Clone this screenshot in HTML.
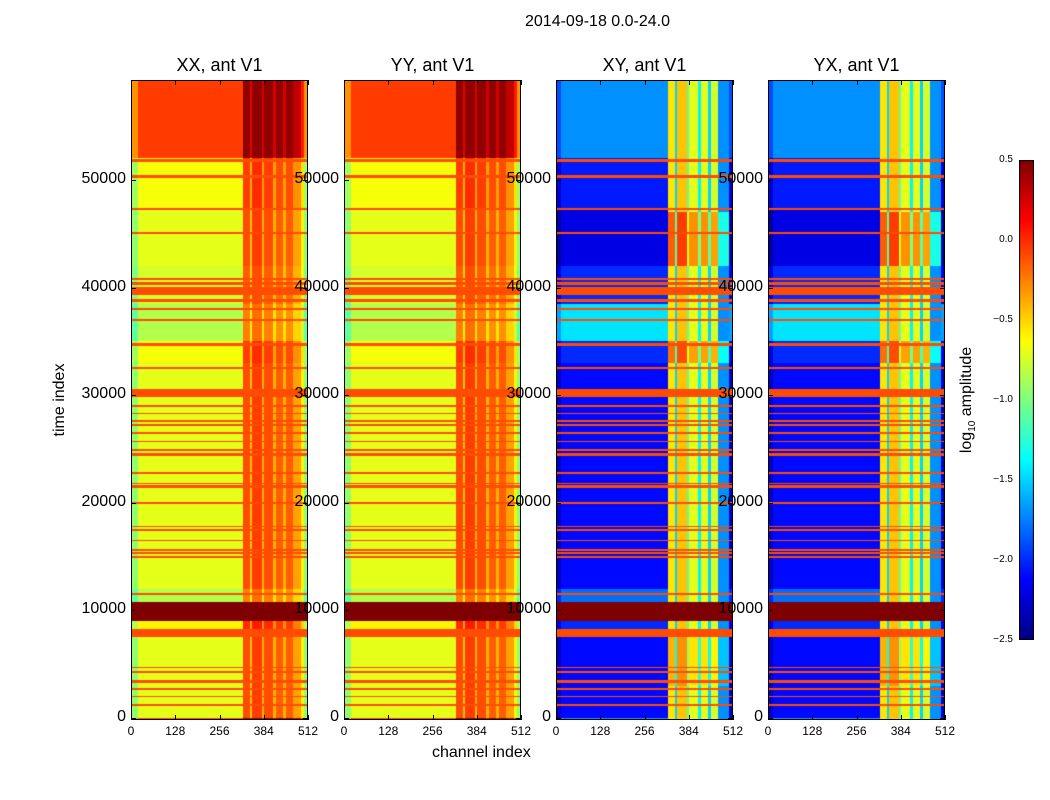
<!DOCTYPE html>
<html><head><meta charset="utf-8">
<style>
body{margin:0;background:#fff;}
#wrap{position:relative;width:1050px;height:800px;overflow:hidden;font-family:"Liberation Sans",sans-serif;color:#000;}
canvas{position:absolute;}
.t{position:absolute;white-space:nowrap;}
.frame{position:absolute;border:1px solid #000;box-sizing:border-box;}
</style></head>
<body>
<div id="wrap">
<div class="t" style="left:525px;top:13px;font-size:16px;">2014-09-18 0.0-24.0</div>
<div class="t" style="left:60px;top:400px;font-size:16px;transform:translate(-50%,-50%) rotate(-90deg);">time index</div>
<div class="t" style="left:432px;top:744px;font-size:16px;">channel index</div>
<div class="t" style="left:968px;top:400px;font-size:16px;transform:translate(-50%,-50%) rotate(-90deg);">log<sub style="font-size:10px">10</sub> amplitude</div>
</div>
<script>
// ---- data ----
const panelNames = ["XX, ant V1","YY, ant V1","XY, ant V1","YX, ant V1"];
const panelKinds = ["auto","auto","cross","cross"];
// time bands: [start, end, autoLevel, crossLevel]
const timeBands = [
 [0,7500,-0.7,-2.1],[7500,8300,-0.1,-0.1],[8300,9000,-0.6,-2.0],[9000,10800,0.5,0.5],
 [10800,12000,-0.85,-1.8],[12000,33000,-0.7,-2.1],[33000,35000,-0.65,-2.0],[35000,38500,-0.85,-1.45],
 [38500,42000,-0.75,-2.0],[42000,47300,-0.7,-2.2],[47300,52000,-0.65,-2.05],[52000,59300,-0.05,-1.7]
];
const flagValue = -0.1;
// flagged rows (time index centres) and widths
const flagTimes = [1200,2000,2700,3400,4300,4700,11500,15000,15300,15600,16500,17500,17800,20000,21500,21800,22800,24500,24900,25700,26500,27200,27600,28300,29000,30000,30400,32500,34700,37000,38000,38800,39500,39900,40400,40800,45100,47300,50300,51800];
const flagWidths = [80,80,80,150,80,80,100,80,80,80,80,80,80,80,150,80,80,150,80,80,80,80,80,80,80,250,250,80,150,80,100,150,250,250,150,150,80,80,150,150];
// channel stripes: [start, end, autoOffset, crossValue]
const chanStripes = [
 [325,345,0.6,-0.55],[345,350,0.25,-1.5],[350,380,0.65,-0.45],[380,386,0.3,-1.1],
 [386,412,0.6,-0.7],[412,420,0.3,-1.4],[420,440,0.55,-0.7],[440,447,0.3,-1.5],
 [447,470,0.55,-0.75],[470,500,0.35,-1.7]
];
// stripe boost by time range for cross panels: [start,end,boost]
const crossBoost = [[42000,47000,0.4],[33000,35000,0.35],[3000,7500,0.15]];
const cbTicks = [0.5,0.0,-0.5,-1.0,-1.5,-2.0,-2.5];
const xTicks = [0,128,256,384,512];
const yTicks = [0,10000,20000,30000,40000,50000];

// ---- geometry ----
const panelX=[131,344,556,768], PW=177, PT=80, PH=640;
const vmin=-2.5,vmax=0.5;
function yOf(t){return 718 - t*107.6/10000;}
function xOf(i,ch){return panelX[i]+ch*PW/512;}
function jet(v){
  let f=(v-vmin)/(vmax-vmin); f=Math.max(0,Math.min(1,f));
  const r=Math.max(0,Math.min(1,Math.min(4*f-1.5,-4*f+4.5)));
  const g=Math.max(0,Math.min(1,Math.min(4*f-0.5,-4*f+3.5)));
  const b=Math.max(0,Math.min(1,Math.min(4*f+0.5,-4*f+2.5)));
  return [r*255|0,g*255|0,b*255|0];
}
function value(kind,t,ch){
  for(let k=0;k<flagTimes.length;k++){ if(Math.abs(t-flagTimes[k])<=flagWidths[k]/2+45) return flagValue; }
  let band=timeBands[timeBands.length-1];
  for(const b of timeBands){ if(t>=b[0]&&t<b[1]){band=b;break;} }
  if(band[0]===7500||band[2]>=0.5) return band[2];
  let stripe=null;
  for(const s of chanStripes){ if(ch>=s[0]&&ch<s[1]){stripe=s;break;} }
  if(kind==="auto"){
    let v=band[2];
    if(stripe) v+=stripe[2];
    if(ch<20||ch>492) v-=0.25;
    return Math.min(v,0.45);
  } else {
    if(stripe){
      let v=stripe[3];
      for(const c of crossBoost){ if(t>=c[0]&&t<c[1]) v+=c[2]; }
      return v;
    }
    let v=band[3];
    if(ch<15||ch>500) v-=0.2;
    return v;
  }
}
const wrap=document.getElementById('wrap');
function addText(txt,l,t,fs,name,extra){
  const d=document.createElement('div');d.className='t';
  
  
  d.style.left=l+'px';d.style.top=t+'px';d.style.fontSize=fs+'px';
  if(extra)d.style.transform=extra;
  d.textContent=txt;wrap.appendChild(d);return d;
}
panelKinds.forEach((kind,i)=>{
  const c=document.createElement('canvas');
  
  
  c.width=PW;c.height=PH;c.style.left=panelX[i]+'px';c.style.top=PT+'px';
  const ctx=c.getContext('2d');const img=ctx.createImageData(PW,PH);
  for(let r=0;r<PH;r++){
    const t=(718-(PT+r+0.5))*10000/107.6;
    for(let x=0;x<PW;x++){
      const ch=(x+0.5)*512/PW;
      const col=jet(value(kind,t,ch));
      const p=(r*PW+x)*4;img.data[p]=col[0];img.data[p+1]=col[1];img.data[p+2]=col[2];img.data[p+3]=255;
    }
  }
  ctx.putImageData(img,0,0);wrap.appendChild(c);
  const f=document.createElement('div');f.className='frame';
  
  
  f.style.left=panelX[i]+'px';f.style.top=PT+'px';f.style.width=PW+'px';f.style.height=PH+'px';
  wrap.appendChild(f);
  addText(panelNames[i],panelX[i]+PW/2,55,18,'panel-title','translateX(-50%)');
  xTicks.forEach(v=>{
    const x=xOf(i,v);
    addText(String(v),x,724,12,'x-tick-label','translateX(-50%)');
    for(const y of [PT,PT+PH-5]){
      const k=document.createElement('div');
      
      
      k.style.cssText='position:absolute;background:#000;width:1px;height:5px;left:'+Math.round(x)+'px;top:'+y+'px';
      wrap.appendChild(k);
    }
  });
  yTicks.forEach(v=>{
    const y=yOf(v);
    addText(String(v),panelX[i]-5,y-10,16,'y-tick-label','translateX(-100%)');
    for(const x of [panelX[i],panelX[i]+PW-5]){
      const k=document.createElement('div');
      
      
      k.style.cssText='position:absolute;background:#000;height:1px;width:5px;top:'+Math.round(y)+'px;left:'+x+'px';
      wrap.appendChild(k);
    }
  });
});
// colorbar
const cb=document.createElement('canvas');


cb.width=15;cb.height=480;cb.style.left='1019px';cb.style.top='160px';
const cctx=cb.getContext('2d');
for(let r=0;r<480;r++){const v=vmax-(r+0.5)/480*(vmax-vmin);const c=jet(v);cctx.fillStyle='rgb('+c+')';cctx.fillRect(0,r,15,1);}
cctx.strokeStyle='#000';cctx.strokeRect(0.5,0.5,14,479);
wrap.appendChild(cb);
cbTicks.forEach(v=>{
  const y=160+(vmax-v)/(vmax-vmin)*480;
  addText(v.toFixed(1).replace('-','\u2212'),1013,y-6,10,'colorbar-tick-label','translateX(-100%)');
});
</script>
</body></html>
